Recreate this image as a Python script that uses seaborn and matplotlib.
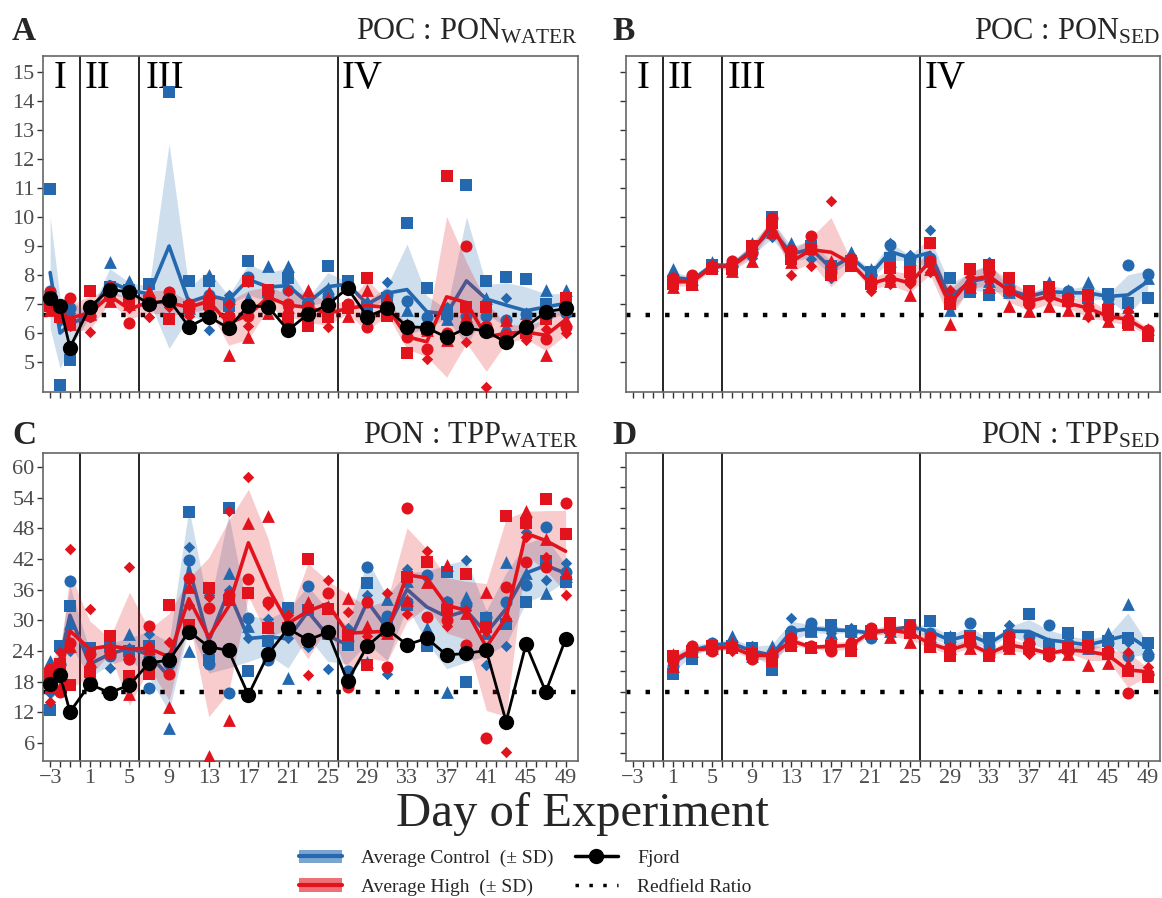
import numpy as np
import pandas as pd
import matplotlib
matplotlib.use("Agg")
import matplotlib.pyplot as plt
import matplotlib.transforms as mtransforms
import seaborn as sns
from matplotlib.lines import Line2D
from matplotlib.patches import Patch

# ---------------- data ----------------
days_water = [-3, -2, -1, 1, 3, 5, 7, 9, 11, 13, 15, 17, 19, 21, 23, 25,
              27, 29, 31, 33, 35, 37, 39, 41, 43, 45, 47, 49]
days_sed = [1, 3, 5, 7, 9, 11, 13, 15, 17, 19, 21, 23, 25,
            27, 29, 31, 33, 35, 37, 39, 41, 43, 45, 47, 49]
replicates = ["circle", "square", "triangle", "diamond"]

# POC:PON water, rows = days, cols = replicate (circle, square, triangle, diamond)
poc_water_control = [
    [7.45, 10.95, 7.0, 6.95], [6.8, 4.2, 6.6, 6.4], [6.85, 5.07, 6.6, 6.7],
    [6.6, 6.65, 6.7, 6.55], [7.55, 7.6, 8.45, 7.5], [7.45, 7.5, 7.8, 7.15],
    [7.2, 7.7, 7.4, 7.1], [7.2, 14.3, 7.3, 7.2], [6.9, 7.8, 6.85, 6.7],
    [7.3, 7.8, 8.0, 6.1], [7.1, 6.95, 7.2, 7.3], [7.95, 8.5, 7.2, 7.75],
    [7.45, 7.4, 8.3, 7.2], [7.5, 7.9, 8.3, 6.85], [7.0, 6.9, 7.25, 7.05],
    [7.25, 8.3, 7.55, 7.3], [7.7, 7.8, 7.65, 7.6], [6.95, 6.9, 7.1, 7.05],
    [7.3, 7.2, 7.25, 7.75], [7.1, 9.8, 6.8, 6.3], [6.55, 7.55, 6.5, 6.35],
    [6.6, 6.65, 6.5, 6.9], [6.6, 11.1, 6.95, 6.55], [6.6, 7.8, 7.2, 7.1],
    [6.45, 7.95, 6.25, 7.2], [6.65, 7.87, 6.69, 5.87], [6.55, 7.0, 7.5, 6.55],
    [6.7, 6.9, 7.5, 7.0]]
poc_water_high = [
    [7.4, 6.95, 6.8, 6.85], [6.7, 6.55, 6.65, 6.6], [7.2, 6.35, 6.3, 6.25],
    [6.6, 7.45, 6.65, 6.05], [7.6, 7.3, 7.1, 7.15], [6.35, 7.1, 7.0, 6.85],
    [7.2, 7.1, 7.45, 6.55], [7.4, 6.5, 7.4, 6.9], [7.0, 6.9, 7.05, 6.6],
    [7.2, 7.0, 7.4, 6.8], [6.6, 6.5, 5.25, 7.0], [6.6, 7.8, 5.85, 6.25],
    [7.4, 7.5, 6.7, 7.35], [7.0, 6.5, 6.9, 7.45], [6.9, 6.25, 7.5, 6.9],
    [6.75, 6.55, 7.2, 6.2], [7.0, 6.85, 6.6, 6.95], [6.2, 7.9, 7.5, 6.2],
    [6.85, 6.6, 7.2, 6.9], [5.85, 5.3, 6.3, 6.05], [5.45, 6.15, 6.1, 5.1],
    [6.0, 11.4, 5.75, 5.85], [9.0, 6.9, 6.6, 5.7], [6.25, 6.9, 6.2, 4.15],
    [5.95, 5.75, 6.45, 5.8], [6.3, 6.0, 6.1, 5.75], [5.8, 6.5, 5.25, 6.15],
    [6.2, 7.2, 6.45, 6.0]]
poc_water_fjord = [7.2, 6.95, 5.5, 6.9, 7.5, 7.42, 7.0, 7.15, 6.22, 6.57, 6.17,
                   6.95, 6.9, 6.1, 6.65, 6.97, 7.55, 6.57, 6.85, 6.22, 6.19,
                   5.85, 6.17, 6.07, 5.68, 6.22, 6.73, 6.85]

# POC:PON sediment
poc_sed_control = [
    [7.9, 7.8, 8.2, 7.8], [7.95, 7.7, 7.85, 7.85], [8.3, 8.35, 8.45, 8.3],
    [8.3, 8.2, 8.5, 8.3], [8.8, 9.0, 9.1, 8.6], [9.4, 10.0, 9.6, 9.3],
    [8.65, 8.7, 9.1, 8.45], [8.85, 9.0, 9.2, 8.55], [8.35, 8.3, 8.4, 7.9],
    [8.6, 8.5, 8.8, 8.6], [8.0, 8.1, 8.2, 7.8], [9.05, 8.6, 8.5, 9.1],
    [8.6, 8.5, 8.55, 8.7], [8.6, 8.45, 8.5, 9.55], [7.2, 7.9, 6.8, 6.9],
    [7.7, 7.4, 7.9, 8.1], [8.1, 7.3, 7.8, 8.45], [7.6, 7.45, 7.4, 7.5],
    [7.2, 7.15, 7.3, 7.4], [7.3, 7.4, 7.75, 7.3], [7.45, 7.2, 7.5, 7.4],
    [7.3, 7.2, 7.75, 7.3], [7.2, 7.35, 7.2, 7.3], [8.35, 7.05, 6.9, 6.95],
    [8.05, 7.2, 7.9, 7.95]]
poc_sed_high = [
    [7.9, 7.7, 7.6, 7.85], [8.0, 7.65, 7.7, 7.75], [8.3, 8.2, 8.35, 8.3],
    [8.5, 8.2, 8.15, 8.4], [8.75, 9.0, 8.5, 8.9], [9.95, 9.8, 9.5, 9.7],
    [8.85, 8.55, 8.45, 8.0], [9.35, 8.9, 8.95, 8.3], [8.1, 8.0, 8.5, 10.55],
    [8.55, 8.3, 8.4, 8.4], [7.75, 7.7, 7.9, 7.45], [7.85, 8.25, 7.8, 7.7],
    [7.8, 8.1, 7.3, 7.7], [8.5, 9.1, 8.2, 8.1], [7.15, 7.0, 6.3, 7.5],
    [7.6, 8.2, 7.6, 7.95], [8.1, 8.35, 7.6, 7.8], [7.5, 7.9, 6.95, 7.45],
    [7.0, 7.45, 6.75, 7.15], [7.3, 7.6, 6.95, 7.2], [7.2, 7.1, 6.8, 7.0],
    [6.9, 7.3, 6.7, 6.55], [6.6, 6.8, 6.4, 6.5], [6.5, 6.35, 6.3, 6.75],
    [6.1, 5.9, 6.15, 6.1]]

# PON:TPP water
pon_water_control = [
    [20.5, 12.4, 22.0, 15.7], [21.5, 25.0, 22.5, 20.0], [37.6, 32.8, 29.5, 24.0],
    [18.3, 24.5, 22.0, 21.0], [23.0, 25.0, 25.0, 20.6], [22.5, 24.0, 27.3, 24.5],
    [16.7, 25.0, 24.0, 27.4], [21.5, 22.5, 8.9, 23.0], [41.8, 51.1, 24.0, 44.4],
    [21.5, 22.2, 25.0, 35.0], [15.7, 51.9, 39.3, 35.9], [30.4, 20.15, 28.8, 26.5],
    [22.2, 26.0, 28.6, 30.3], [28.0, 32.35, 18.65, 26.5], [36.7, 32.0, 33.3, 24.85],
    [27.5, 27.5, 32.7, 20.4], [20.0, 25.2, 27.1, 28.5], [40.5, 37.2, 21.9, 35.0],
    [30.8, 29.0, 34.2, 19.6], [33.5, 33.0, 37.7, 40.0], [38.8, 25.0, 28.4, 38.2],
    [33.6, 39.5, 16.0, 33.7], [33.0, 18.0, 34.6, 41.8], [30.7, 30.5, 27.6, 21.3],
    [33.65, 29.2, 41.3, 25.0], [36.9, 33.65, 39.2, 47.2], [48.2, 41.5, 35.3, 37.9],
    [39.5, 37.4, 38.75, 41.15]]
pon_water_high = [
    [20.5, 19.5, 17.0, 14.0], [16.0, 21.5, 17.0, 23.9], [25.5, 17.35, 25.0, 43.9],
    [23.5, 19.8, 22.0, 32.3], [23.5, 27.0, 25.0, 24.5], [22.5, 19.1, 15.6, 40.5],
    [28.8, 19.6, 24.5, 25.0], [19.6, 32.9, 13.1, 25.8], [38.2, 29.1, 36.5, 33.0],
    [32.5, 36.3, 3.5, 34.5], [35.0, 34.0, 10.5, 51.3], [38.1, 35.4, 49.0, 58.1],
    [33.5, 28.4, 50.3, 33.0], [29.0, 28.5, 29.0, 31.0], [32.5, 41.9, 33.5, 19.3],
    [35.3, 32.3, 27.5, 37.9], [17.0, 27.1, 34.3, 31.6], [33.5, 21.3, 28.8, 27.0],
    [20.8, 28.0, 27.5, 35.3], [51.9, 38.5, 34.0, 31.2], [30.7, 41.3, 37.5, 43.6],
    [30.1, 32.0, 40.8, 28.8], [25.2, 39.1, 31.4, 32.0], [6.9, 28.6, 35.6, 28.0],
    [36.5, 50.4, 31.0, 4.3], [41.3, 49.1, 51.3, 46.3], [40.5, 53.7, 45.85, 42.3],
    [52.9, 46.9, 39.2, 35.0]]
pon_water_fjord = [17.5, 19.3, 12.1, 17.5, 15.85, 17.35, 21.7, 22.2, 27.8, 24.85,
                   24.1, 15.4, 23.4, 28.4, 26.15, 27.65, 18.1, 25.0, 28.3, 25.2,
                   26.5, 23.2, 23.55, 24.1, 10.2, 25.3, 16.0, 26.35]

# PON:TPP sediment
pon_sed_control = [
    [21.0, 19.6, 23.5, 22.5], [24.5, 22.5, 25.0, 24.5], [25.5, 24.5, 25.5, 25.0],
    [25.0, 25.0, 27.0, 25.0], [23.5, 24.5, 23.0, 25.0], [23.5, 20.3, 25.0, 24.0],
    [28.0, 27.0, 26.0, 30.5], [29.5, 28.0, 28.0, 28.0], [28.5, 29.0, 27.5, 27.5],
    [27.5, 28.0, 28.0, 28.5], [26.5, 28.0, 27.5, 28.0], [28.0, 28.5, 28.0, 28.0],
    [28.5, 29.0, 28.5, 29.0], [27.5, 29.8, 27.0, 27.0], [25.0, 26.5, 27.0, 26.0],
    [29.5, 27.0, 26.5, 25.5], [25.0, 26.5, 25.0, 25.5], [27.5, 27.0, 28.0, 29.0],
    [27.0, 31.3, 26.5, 26.5], [29.1, 25.0, 25.5, 25.0], [25.5, 27.5, 25.0, 24.8],
    [25.0, 26.8, 24.5, 24.5], [25.5, 26.0, 27.5, 25.6], [23.0, 26.5, 33.2, 25.7],
    [23.0, 25.5, 24.5, 25.0]]
pon_sed_high = [
    [22.0, 23.0, 21.0, 22.5], [25.0, 24.0, 24.0, 23.8], [24.0, 25.0, 24.5, 24.5],
    [25.0, 24.5, 25.5, 24.0], [22.5, 23.5, 24.0, 22.5], [23.0, 22.0, 24.0, 23.5],
    [26.5, 25.0, 27.0, 25.5], [25.0, 24.5, 25.0, 24.5], [24.0, 25.0, 26.0, 24.5],
    [25.5, 24.0, 25.5, 25.5], [28.5, 27.5, 27.5, 27.5], [28.0, 29.4, 26.8, 28.2],
    [29.1, 27.5, 25.8, 27.6], [26.8, 24.85, 25.0, 25.3], [24.5, 23.0, 24.5, 24.8],
    [25.5, 26.5, 24.5, 25.0], [23.5, 23.0, 24.0, 23.7], [27.0, 25.0, 24.5, 24.3],
    [25.5, 24.5, 24.5, 23.5], [23.0, 23.5, 24.0, 23.7], [24.0, 24.5, 23.5, 24.8],
    [24.5, 25.0, 21.3, 24.8], [24.0, 23.5, 21.6, 23.7], [15.8, 20.0, 21.5, 23.9],
    [19.5, 19.0, 20.5, 20.8]]

redfield_poc_pon = 6.625
redfield_pon_tpp = 16
phase_breaks = [0, 6, 26]
phase_labels = ["I", "II", "III", "IV"]
phase_label_x = [-2.6, 0.45, 6.6, 26.45]
x_major = list(range(-3, 50, 4))
x_labels = ["\u22123" if v == -3 else str(v) for v in x_major]
y_ticks_poc = list(range(5, 16))
y_ticks_pon_water = list(range(6, 61, 6))
y_ticks_pon_sed = list(range(4, 61, 4))

# ---------------- style ----------------
sns.set_style("white")
plt.rcParams["font.family"] = ["Liberation Serif", "DejaVu Serif"]
plt.rcParams["mathtext.fontset"] = "custom"
plt.rcParams["mathtext.rm"] = "Liberation Serif"
plt.rcParams["mathtext.it"] = "Liberation Serif:italic"
plt.rcParams["mathtext.bf"] = "Liberation Serif:bold"

BLUE = "#2469B0"
RED = "#E3131E"
marker_map = {"circle": "o", "square": "s", "triangle": "^", "diamond": "D"}
size_map = {"circle": 75, "square": 65, "triangle": 85, "diamond": 34}


def long_df(days, rows, treatment):
    recs = []
    for d, row in zip(days, rows):
        for rep, v in zip(replicates, row):
            recs.append((d, rep, v, treatment))
    return pd.DataFrame(recs, columns=["day", "rep", "value", "treatment"])


W, H = 1162, 898
fig = plt.figure(figsize=(W / 100, H / 100), dpi=100)


def add_ax(l, r, t, b):
    return fig.add_axes([l / W, 1 - b / H, (r - l) / W, (b - t) / H])


axA = add_ax(43, 578, 56, 392)
axB = add_ax(626, 1160, 56, 392)
axC = add_ax(43, 578, 453, 761)
axD = add_ax(626, 1160, 453, 761)


def draw_panel(ax, days, ctrl, high, fjord, redfield, ylim, yticks,
               show_ylabels, show_xlabels, show_phases):
    dfc = long_df(days, ctrl, "Control")
    dfh = long_df(days, high, "High")
    sns.lineplot(data=dfc, x="day", y="value", errorbar="sd", color=BLUE,
                 lw=2.6, ax=ax, zorder=2,
                 err_kws={"alpha": 0.22, "zorder": 1, "linewidth": 0})
    sns.lineplot(data=dfh, x="day", y="value", errorbar="sd", color=RED,
                 lw=2.6, ax=ax, zorder=5,
                 err_kws={"alpha": 0.22, "zorder": 3, "linewidth": 0})
    for df, col in ((dfc, BLUE), (dfh, RED)):
        for rep in replicates:
            sub = df[df["rep"] == rep]
            sns.scatterplot(data=sub, x="day", y="value", marker=marker_map[rep],
                            s=size_map[rep], color=col, linewidth=0, ax=ax,
                            zorder=4, legend=False)
    ax.axhline(redfield, color="black", lw=3.2, ls=(0, (1, 3.4)), zorder=1.5)
    if fjord is not None:
        sns.lineplot(x=days, y=fjord, color="black", lw=2.0, marker="o",
                     markersize=11, markeredgewidth=0, ax=ax, zorder=7)
    for xb in phase_breaks:
        ax.axvline(xb, color="black", lw=1.2, zorder=0.8)
    if show_phases:
        trans = mtransforms.blended_transform_factory(ax.transData, ax.transAxes)
        for lab, xp in zip(phase_labels, phase_label_x):
            ax.text(xp, 0.905, lab, transform=trans,
                    fontsize=28, va="baseline", ha="left", color="black")
    ax.set_xlim(-3.72, 50.25)
    ax.set_ylim(*ylim)
    ax.set_xticks(x_major)
    ax.set_xticks(list(range(-3, 50)), minor=True)
    ax.set_yticks(yticks)
    if show_xlabels:
        ax.set_xticklabels(x_labels)
    else:
        ax.set_xticklabels([])
    if show_ylabels:
        ax.set_yticklabels([str(v) for v in yticks])
    else:
        ax.set_yticklabels([])
    ax.set_xlabel("")
    ax.set_ylabel("")
    ax.tick_params(axis="both", which="both", direction="out", length=4,
                   width=1.0, color="#333333", labelcolor="#4D4D4D",
                   labelsize=16, pad=2)
    ax.tick_params(axis="both", which="both", bottom=True, left=True)
    for sp in ax.spines.values():
        sp.set_color("#666666")
        sp.set_linewidth(1.2)


draw_panel(axA, days_water, poc_water_control, poc_water_high, poc_water_fjord,
           redfield_poc_pon, (3.97, 15.55), y_ticks_poc, True, False, True)
draw_panel(axB, days_sed, poc_sed_control, poc_sed_high, None,
           redfield_poc_pon, (3.97, 15.55), y_ticks_poc, False, False, True)
draw_panel(axC, days_water, pon_water_control, pon_water_high, pon_water_fjord,
           redfield_pon_tpp, (2.5, 62.7), y_ticks_pon_water, True, True, False)
draw_panel(axD, days_sed, pon_sed_control, pon_sed_high, None,
           redfield_pon_tpp, (2.5, 62.7), y_ticks_pon_sed, False, True, False)

# panel letters and titles
def ftext(x, y, s, **kw):
    fig.text(x / W, 1 - y / H, s, **kw)

ftext(12, 40, "A", fontsize=24, fontweight="bold", va="baseline")
ftext(612, 40, "B", fontsize=24, fontweight="bold", va="baseline")
ftext(12, 444, "C", fontsize=24, fontweight="bold", va="baseline")
ftext(612, 444, "D", fontsize=24, fontweight="bold", va="baseline")
ftext(578, 40, r"POC : PON$_{\mathrm{WATER}}$", fontsize=22, ha="right", va="baseline")
ftext(1160, 40, r"POC : PON$_{\mathrm{SED}}$", fontsize=22, ha="right", va="baseline")
ftext(578, 444, r"PON : TPP$_{\mathrm{WATER}}$", fontsize=22, ha="right", va="baseline")
ftext(1160, 444, r"PON : TPP$_{\mathrm{SED}}$", fontsize=22, ha="right", va="baseline")
ftext(582, 826, "Day of Experiment", fontsize=35, ha="center", va="baseline")

# legend
handles = [
    (Patch(facecolor=BLUE, alpha=0.6, edgecolor="none"), Line2D([], [], color=BLUE, lw=3)),
    (Patch(facecolor=RED, alpha=0.6, edgecolor="none"), Line2D([], [], color=RED, lw=3)),
    Line2D([], [], color="black", lw=2.5, marker="o", markersize=10),
    Line2D([], [], color="black", lw=2.5, ls=(0, (1, 3))),
]
labels = ["Average Control  (\u00b1 SD)", "Average High  (\u00b1 SD)",
          "Fjord", "Redfield Ratio"]
fig.legend(handles, labels, loc="center", bbox_to_anchor=(0.452, 0.028),
           ncol=2, frameon=False, fontsize=14, handlelength=2.2,
           handletextpad=1.0, columnspacing=1.1, labelspacing=0.58)

fig.savefig("out.png", dpi=100)
